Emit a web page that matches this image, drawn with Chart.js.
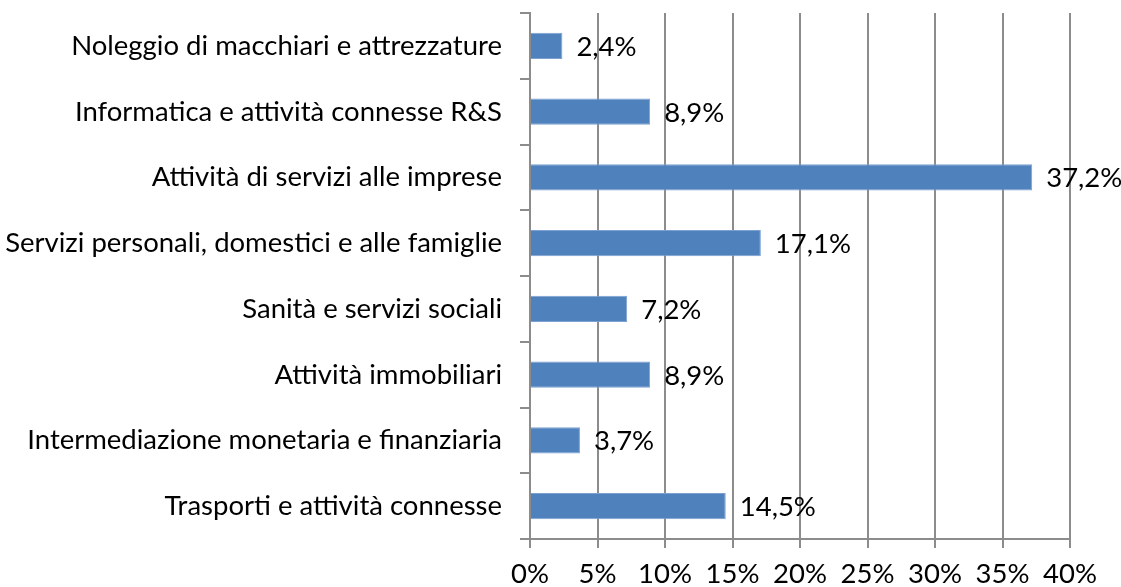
<!DOCTYPE html>
<html>
<head>
<meta charset="utf-8">
<script src="https://cdn.jsdelivr.net/npm/chart.js@4/dist/chart.umd.min.js"></script>
<style>
  html, body { margin: 0; padding: 0; background: #fff; }
  #wrap { width: 1121px; height: 587px; }
</style>
</head>
<body>
<div id="wrap"><canvas id="chart"></canvas></div>
<script>
'use strict';

// Settori (dall'alto verso il basso)
const CATEGORIES = [
  'Noleggio di macchiari e attrezzature',
  'Informatica e attività connesse R&S',
  'Attività di servizi alle imprese',
  'Servizi personali, domestici e alle famiglie',
  'Sanità e servizi sociali',
  'Attività immobiliari',
  'Intermediazione monetaria e finanziaria',
  'Trasporti e attività connesse'
];
const SHARES = [2.4, 8.9, 37.2, 17.1, 7.2, 8.9, 3.7, 14.5];
const X_TICKS = [0, 5, 10, 15, 20, 25, 30, 35, 40];

const FONT = "Lato, 'Open Sans', sans-serif";
const FONT_SIZE = 27.5;
const GRID = '#8c8c8c';

// value labels to the right of each bar, comma decimal
const valueLabels = {
  id: 'valueLabels',
  afterDatasetsDraw(chart) {
    const ctx = chart.ctx;
    const meta = chart.getDatasetMeta(0);
    ctx.save();
    ctx.font = FONT_SIZE + 'px ' + FONT;
    ctx.fillStyle = '#000';
    ctx.textAlign = 'left';
    ctx.textBaseline = 'middle';
    meta.data.forEach((bar, i) => {
      const txt = SHARES[i].toFixed(1).replace('.', ',') + '%';
      ctx.fillText(txt, bar.x + 14, bar.y + 1);
    });
    ctx.restore();
  }
};

new Chart(document.getElementById('chart'), {
  type: 'bar',
  data: {
    labels: CATEGORIES,
    datasets: [{
      data: SHARES,
      backgroundColor: '#4F81BD',
      borderColor: '#7BA1D0',
      borderWidth: 1,
      barPercentage: 0.4,
      categoryPercentage: 1
    }]
  },
  options: {
    indexAxis: 'y',
    responsive: true,
    maintainAspectRatio: false,
    animation: false,
    layout: { padding: { top: 13, right: 51, left: 0, bottom: 0 } },
    plugins: {
      legend: { display: false },
      tooltip: { enabled: false }
    },
    scales: {
      x: {
        min: 0,
        max: 40,
        afterBuildTicks: s => { s.ticks = X_TICKS.map(v => ({ value: v })); },
        afterFit: s => { s.height = 48; },
        border: { color: GRID, width: 2 },
        grid: { color: GRID, lineWidth: 2, tickLength: 9 },
        ticks: {
          padding: 10,
          color: '#000',
          font: { family: FONT, size: FONT_SIZE },
          callback: v => v + '%'
        }
      },
      y: {
        afterFit: s => { s.width = 530; s.paddingTop = 0; s.paddingBottom = 0; },
        border: { color: GRID, width: 2 },
        grid: { offset: true, drawOnChartArea: false, color: GRID, lineWidth: 2, tickLength: 10 },
        ticks: {
          padding: 18,
          color: '#000',
          font: { family: FONT, size: FONT_SIZE }
        }
      }
    }
  },
  plugins: [valueLabels]
});
</script>
</body>
</html>
